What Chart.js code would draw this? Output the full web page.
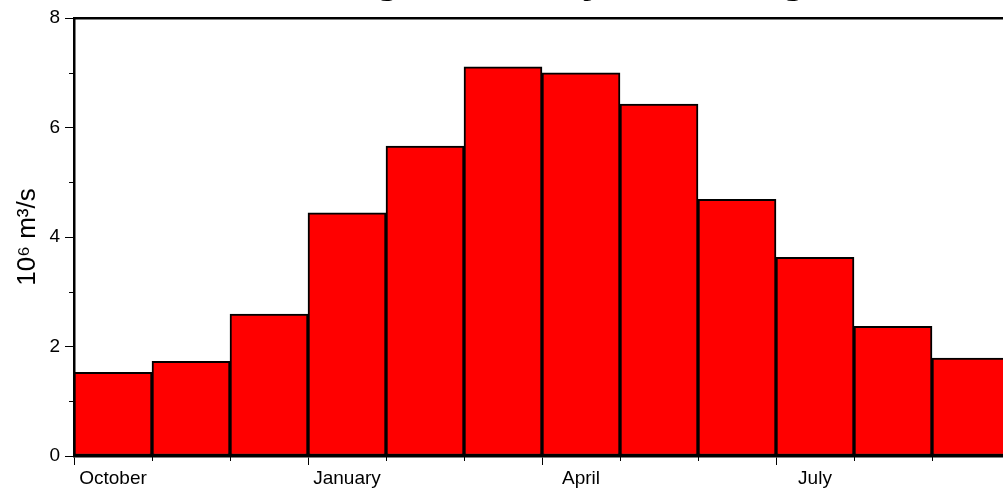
<!DOCTYPE html>
<html>
<head>
<meta charset="utf-8">
<script src="https://cdn.jsdelivr.net/npm/chart.js@4"></script>
<style>
  html, body { margin: 0; padding: 0; overflow: hidden; background: #fff; }
  #wrap { position: absolute; left: 0; top: -46px; width: 1040px; height: 535px; }
</style>
</head>
<body>
<div id="wrap"><canvas id="dischargeChart"></canvas></div>

<script>
  // data
  var months = ['October', 'November', 'December', 'January', 'February', 'March',
                'April', 'May', 'June', 'July', 'August', 'September'];
  var discharge = [1.53, 1.73, 2.59, 4.44, 5.66, 7.11, 7.00, 6.43, 4.69, 3.63, 2.37, 1.79];
  var labelledMonths = ['October', 'January', 'April', 'July'];
  var yMajorTicks = [0, 2, 4, 6, 8];

  Chart.defaults.font.family = '"Liberation Sans", Arial, Helvetica, sans-serif';
  Chart.defaults.color = '#000';

  // short minor tick marks (Chart.js has one tick length per axis)
  var minorTicks = {
    id: 'minorTicks',
    afterDraw: function (chart) {
      var ctx = chart.ctx, x = chart.scales.x, y = chart.scales.y;
      var area = chart.chartArea;
      ctx.save();
      ctx.strokeStyle = '#000';
      ctx.lineWidth = 1;
      ctx.beginPath();
      for (var v = y.min; v <= y.max; v++) {
        if (yMajorTicks.indexOf(v) >= 0) continue;
        var py = Math.round(y.getPixelForValue(v)) + 0.5;
        ctx.moveTo(area.left - 5, py);
        ctx.lineTo(area.left, py);
      }
      for (var i = 1; i <= months.length; i++) {
        if (i < months.length && labelledMonths.indexOf(months[i]) >= 0) continue;
        var half = (x.getPixelForValue(1) - x.getPixelForValue(0)) / 2;
        var px = Math.round(x.getPixelForValue(i) - half) + 0.5;
        ctx.moveTo(px, area.bottom);
        ctx.lineTo(px, area.bottom + 5);
      }
      ctx.stroke();
      ctx.restore();
    }
  };

  var ctxDis = document.getElementById('dischargeChart').getContext('2d');
  var dischargeChart = new Chart(ctxDis, {
    type: 'bar',
    data: {
      labels: months,
      datasets: [{
        label: 'Discharge',
        data: discharge,
        backgroundColor: '#ff0000',
        borderColor: '#000',
        borderWidth: 2,
        borderSkipped: false,
        barPercentage: 1,
        categoryPercentage: 1
      }]
    },
    options: {
      responsive: true,
      maintainAspectRatio: false,
      animation: false,
      layout: { padding: { left: 0, right: 30, top: 0, bottom: 0 } },
      plugins: {
        legend: { display: false },
        tooltip: { enabled: false },
        title: {
          display: true,
          text: 'Average Monthly Discharge',
          fullSize: false,
          font: { size: 44, weight: 'bold', lineHeight: 1.16 },
          color: '#000',
          padding: { top: 0, bottom: 12.96 }
        }
      },
      scales: {
        x: {
          offset: true,
          grid: {
            offset: true,
            drawOnChartArea: false,
            tickLength: 9,
            tickWidth: 1,
            tickColor: function (c) {
              return c.index % 3 === 0 ? '#000' : 'rgba(0,0,0,0)';
            }
          },
          border: { display: true, color: '#000', width: 2.5 },
          ticks: {
            autoSkip: false,
            maxRotation: 0,
            padding: 2,
            font: { size: 19 },
            callback: function (value, index) {
              var m = months[index];
              return labelledMonths.indexOf(m) >= 0 ? m : '';
            }
          },
          afterFit: function (scale) { scale.height = 33; }
        },
        xTop: {
          position: 'top',
          labels: months,
          offset: true,
          grid: { display: false },
          ticks: { display: false },
          border: { display: true, color: '#000', width: 2.5 },
          afterFit: function (scale) { scale.height = 0; }
        },
        y: {
          min: 0,
          max: 8,
          grid: {
            drawOnChartArea: false,
            tickLength: 9,
            tickWidth: 1,
            tickColor: function (c) {
              return c.tick && yMajorTicks.indexOf(c.tick.value) >= 0 ? '#000' : 'rgba(0,0,0,0)';
            }
          },
          border: { display: true, color: '#000', width: 2.5 },
          ticks: {
            stepSize: 1,
            padding: 5,
            font: { size: 19 },
            callback: function (value) {
              return yMajorTicks.indexOf(value) >= 0 ? value : '';
            }
          },
          title: {
            display: true,
            text: '10\u2076 m\u00b3/s',
            font: { size: 26 },
            padding: { top: 12, bottom: 0 }
          },
          afterFit: function (scale) { scale.width = 74; }
        }
      }
    },
    plugins: [minorTicks]
  });
</script>
</body>
</html>
